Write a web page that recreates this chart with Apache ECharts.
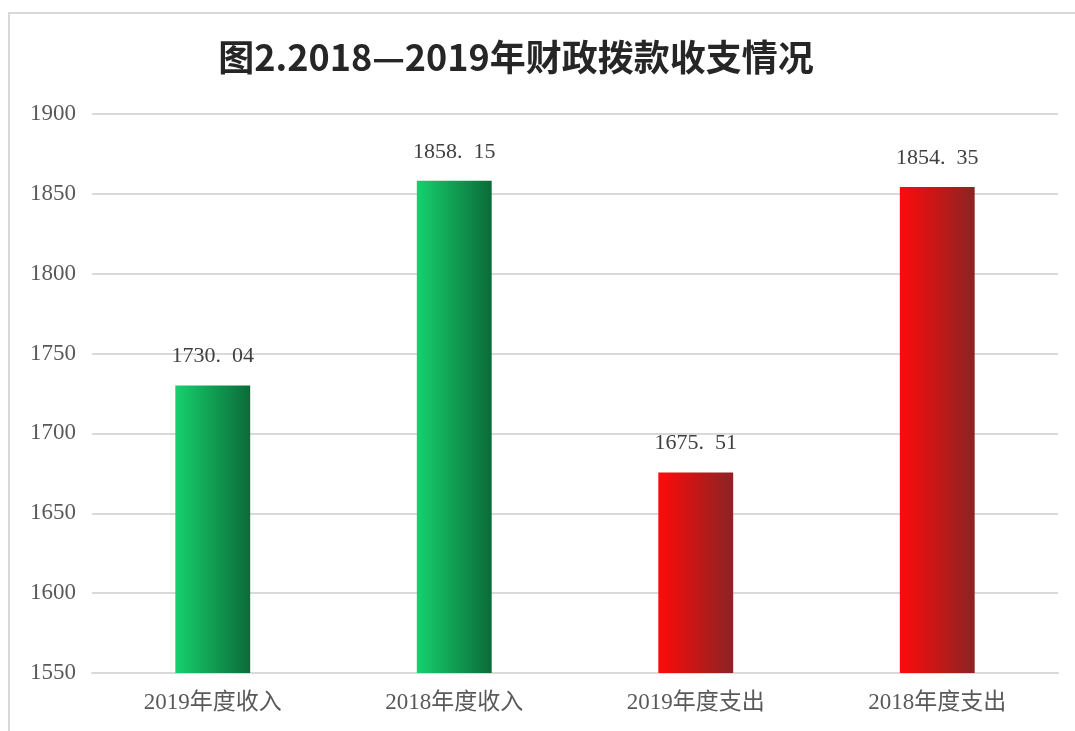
<!DOCTYPE html>
<html lang="zh-CN">
<head>
    <meta charset="UTF-8">
    <title>财政拨款收支情况</title>
    <style>
        html, body { margin: 0; padding: 0; background: #fff; }
        .frame {
            position: absolute; left: 8px; top: 12px; right: 0; bottom: 0;
            border-left: 2px solid #d9d9d9; border-top: 2px solid #d9d9d9;
        }
        #chart { position: absolute; left: 0; top: 0; width: 1075px; height: 731px; }
    </style>
</head>
<body>
<div class="frame"></div>
<div id="chart"></div>
<script src="https://cdn.jsdelivr.net/npm/echarts@6/dist/echarts.min.js"></script>
<script>
    // 数据
    var categories = ['2019年度收入', '2018年度收入', '2019年度支出', '2018年度支出'];
    var values = [1730.04, 1858.15, 1675.51, 1854.35];
    var yTicks = [1550, 1900, 50];   // min, max, interval

    var serif = '"Liberation Serif", "Noto Sans CJK SC", serif';

    function grad(from, to) {
        return new echarts.graphic.LinearGradient(0, 0, 1, 0, [
            {offset: 0, color: from},
            {offset: 1, color: to}
        ]);
    }
    var greenFill = grad('#17d06e', '#0b6b38');
    var redFill = grad('#ff0a0a', '#8a2424');

    var barData = [];
    for (var i = 0; i < values.length; i++) {
        barData.push({
            value: values[i],
            itemStyle: {color: i < 2 ? greenFill : redFill}
        });
    }

    var chart = echarts.init(document.getElementById('chart'));
    chart.setOption({
        animation: false,
        title: {
            text: '图2.2018—2019年财政拨款收支情况',
            left: 511,
            textAlign: 'center',
            top: 34,
            textStyle: {
                fontFamily: '"Noto Sans CJK SC", serif',
                fontWeight: 'bold',
                fontSize: 36,
                color: '#262626'
            }
        },
        grid: {left: 92, right: 17, top: 114, bottom: 58},
        xAxis: {
            type: 'category',
            data: categories,
            axisLine: {lineStyle: {color: '#d9d9d9', width: 2}},
            axisTick: {show: false},
            axisLabel: {
                margin: 18,
                fontFamily: serif,
                fontSize: 23,
                color: '#595959'
            }
        },
        yAxis: {
            type: 'value',
            min: yTicks[0],
            max: yTicks[1],
            interval: yTicks[2],
            axisLine: {show: false},
            axisTick: {show: false},
            splitLine: {lineStyle: {color: '#d9d9d9', width: 2}},
            axisLabel: {
                margin: 16,
                fontFamily: serif,
                fontSize: 23,
                color: '#595959',
                formatter: function (v) { return String(v); }
            }
        },
        series: [{
            type: 'bar',
            data: barData,
            barWidth: '31%',
            label: {
                show: true,
                position: 'top',
                distance: 18,
                fontFamily: serif,
                fontSize: 22,
                color: '#404040',
                formatter: function (p) {
                    return p.value.toFixed(2).replace('.', '.\u2002');
                }
            }
        }]
    });
</script>
</body>
</html>
